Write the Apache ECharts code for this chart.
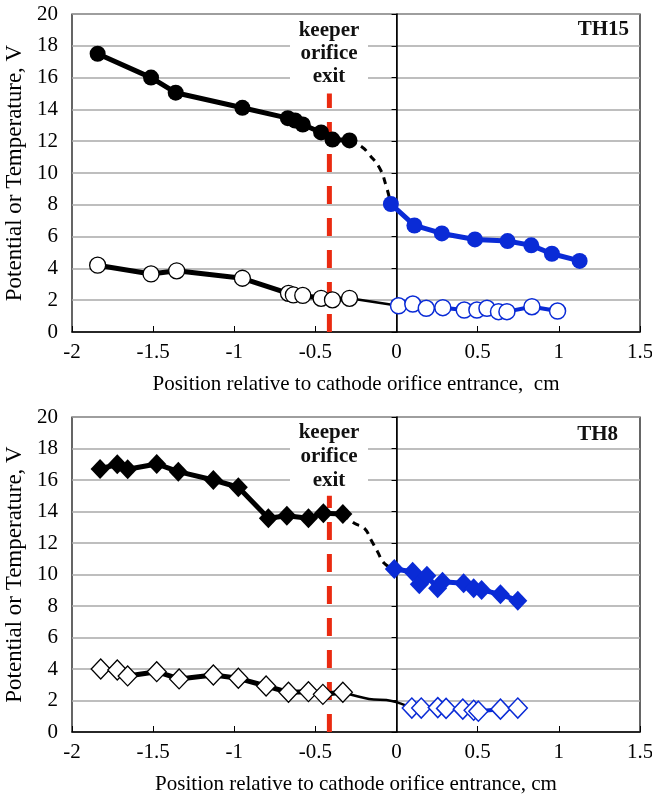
<!DOCTYPE html>
<html><head><meta charset="utf-8">
<script src="https://cdn.jsdelivr.net/npm/echarts@6/dist/echarts.min.js"></script>
<style>html,body{margin:0;padding:0;background:#fff}#c{width:652px;height:797px}</style>
</head><body><div id="c"></div><script>
// ---- tick labels ----
const xTickLabels = ['-2', '-1.5', '-1', '-0.5', '0', '0.5', '1', '1.5'];
const yTickLabels = ['0', '2', '4', '6', '8', '10', '12', '14', '16', '18', '20'];
const xTitleTop = 'Position relative to cathode orifice entrance,  cm';
const xTitleBottom = 'Position relative to cathode orifice entrance, cm';
const yTitle = 'Potential or Temperature, V';
const keeperLabel = ['keeper', 'orifice', 'exit'];
const panelLabels = ['TH15', 'TH8'];
const keeperX = -0.414;
const keeperY = [0, 15];

// ---- TH15 (top) ----
const th15PotInX = [-1.842, -1.513, -1.361, -0.950, -0.670, -0.625, -0.578, -0.465, -0.395, -0.290];
const th15PotInY = [17.5, 16.0, 15.05, 14.1, 13.45, 13.3, 13.05, 12.55, 12.1, 12.05];
const th15TransX = [-0.290, -0.215, -0.166, -0.104, -0.066, -0.035];
const th15TransY = [12.05, 11.65, 11.13, 10.3, 9.25, 8.05];
const th15PotOutX = [-0.035, 0.110, 0.279, 0.483, 0.684, 0.830, 0.957, 1.128];
const th15PotOutY = [8.05, 6.7, 6.2, 5.82, 5.72, 5.45, 4.92, 4.47];
const th15TeInX = [-1.842, -1.513, -1.355, -0.950, -0.666, -0.636, -0.578, -0.465, -0.395, -0.290];
const th15TeInY = [4.2, 3.65, 3.85, 3.38, 2.43, 2.33, 2.3, 2.12, 2.02, 2.12];
const th15TeLinkX = [-0.290, 0.012];
const th15TeLinkY = [2.12, 1.65];
const th15TeOutX = [0.012, 0.100, 0.183, 0.285, 0.417, 0.495, 0.557, 0.628, 0.680, 0.834, 0.992];
const th15TeOutY = [1.65, 1.76, 1.49, 1.53, 1.38, 1.38, 1.49, 1.28, 1.28, 1.59, 1.32];

// ---- TH8 (bottom) ----
const th8PotInX = [-1.827, -1.721, -1.657, -1.478, -1.345, -1.129, -0.975, -0.790, -0.676, -0.543, -0.451, -0.331];
const th8PotInY = [16.7, 17.0, 16.68, 17.02, 16.53, 16.0, 15.54, 13.57, 13.73, 13.57, 13.89, 13.84];
const th8TransX = [-0.331, -0.260, -0.198, -0.157, -0.117, -0.076, -0.014];
const th8TransY = [13.84, 13.25, 12.93, 12.19, 11.45, 10.71, 10.35];
const th8PotOutX = [-0.014, 0.099, 0.140, 0.187, 0.253, 0.283, 0.413, 0.475, 0.524, 0.640, 0.747];
const th8PotOutY = [10.35, 10.18, 9.38, 9.92, 9.12, 9.54, 9.44, 9.12, 9.02, 8.74, 8.34];
const th8TeInX = [-1.823, -1.721, -1.657, -1.478, -1.340, -1.129, -0.975, -0.804, -0.666, -0.543, -0.454, -0.331];
const th8TeInY = [4.0, 3.94, 3.56, 3.83, 3.37, 3.62, 3.41, 2.92, 2.52, 2.56, 2.39, 2.52];
const th8TeLinkX = [-0.331, -0.17, -0.03, 0.094];
const th8TeLinkY = [2.52, 2.1, 1.97, 1.52];
const th8TeOutX = [0.094, 0.152, 0.254, 0.305, 0.408, 0.475, 0.504, 0.640, 0.747];
const th8TeOutY = [1.52, 1.52, 1.55, 1.5, 1.45, 1.38, 1.32, 1.45, 1.52];

const zip = (xs, ys) => xs.map((x, i) => [x, ys[i]]);
const BLUE = '#0a2bd6';
const RED = '#ea2a10';
const SERIF = '"Liberation Serif", "Times New Roman", serif';
const FS = 21;

function xAxisCfg(gi, title) {
  return {
    gridIndex: gi, type: 'value', min: -2, max: 1.5, interval: 0.5,
    name: title, nameLocation: 'middle', nameGap: 42,
    nameTextStyle: { fontFamily: SERIF, fontSize: FS, color: '#000' },
    axisLine: { onZero: false, lineStyle: { color: '#000', width: 1.5 } },
    axisTick: { inside: true, length: 6, lineStyle: { color: '#000' } },
    axisLabel: { margin: 10, fontFamily: SERIF, fontSize: FS, color: '#000',
      formatter: (v) => xTickLabels[Math.round((v + 2) / 0.5)] },
    splitLine: { show: false }
  };
}
function yAxisCfg(gi) {
  return {
    gridIndex: gi, type: 'value', min: 0, max: 20, interval: 2,
    name: yTitle, nameLocation: 'middle', nameGap: 44,
    nameTextStyle: { fontFamily: SERIF, fontSize: 23, color: '#000' },
    axisLine: { show: true, lineStyle: { color: '#000', width: 1.5 } },
    axisTick: { show: true, length: 5, lineStyle: { color: '#000' } },
    axisLabel: { margin: 14, fontFamily: SERIF, fontSize: FS, color: '#000',
      formatter: (v) => yTickLabels[Math.round(v / 2)] },
    splitLine: { show: true, lineStyle: { color: '#a8a8a8', width: 1.5 } }
  };
}

function panelSeries(gi, d) {
  const base = { xAxisIndex: gi, yAxisIndex: gi, type: 'line', animation: false,
    emphasis: { disabled: true }, silent: true };
  return [
    Object.assign({}, base, { name: 'zero', data: [[0, 0], [0, 20]], symbol: 'none',
      lineStyle: { color: '#000', width: 1 }, z: 1 }),
    Object.assign({}, base, { name: 'keeper', data: [[keeperX, keeperY[0]], [keeperX, keeperY[1]]], symbol: 'none',
      lineStyle: { color: RED, width: 5, type: [18, 14] }, z: 2 }),
    Object.assign({}, base, { data: d.trans, symbol: 'none', smooth: true,
      lineStyle: { color: '#000', width: 3, type: [7, 6] }, z: 3 }),
    Object.assign({}, base, { data: d.teLink, symbol: 'none', smooth: d.teLink.length > 2 ? 0.4 : false,
      lineStyle: { color: '#000', width: 2.5 }, z: 3 }),
    Object.assign({}, base, { data: d.potIn, symbol: d.sym, symbolSize: d.symSize,
      itemStyle: { color: '#000' }, lineStyle: { color: '#000', width: 5 }, z: 4 }),
    Object.assign({}, base, { data: d.potOut, symbol: d.sym, symbolSize: d.symSize,
      itemStyle: { color: BLUE }, lineStyle: { color: BLUE, width: 5 }, z: 4 }),
    Object.assign({}, base, { data: d.teIn, symbol: d.sym, symbolSize: d.symSize,
      itemStyle: { color: '#fff', borderColor: '#000', borderWidth: 1.3 }, lineStyle: { color: '#000', width: 5 }, z: 4 }),
    Object.assign({}, base, { data: d.teOut, symbol: d.sym, symbolSize: d.symSize,
      itemStyle: { color: '#fff', borderColor: BLUE, borderWidth: 1.5 }, lineStyle: { color: BLUE, width: 4 }, z: 4 })
  ];
}

const panelTop = {
  potIn: zip(th15PotInX, th15PotInY), trans: zip(th15TransX, th15TransY), potOut: zip(th15PotOutX, th15PotOutY),
  teIn: zip(th15TeInX, th15TeInY), teLink: zip(th15TeLinkX, th15TeLinkY), teOut: zip(th15TeOutX, th15TeOutY),
  sym: 'circle', symSize: 16
};
const panelBot = {
  potIn: zip(th8PotInX, th8PotInY), trans: zip(th8TransX, th8TransY), potOut: zip(th8PotOutX, th8PotOutY),
  teIn: zip(th8TeInX, th8TeInY), teLink: zip(th8TeLinkX, th8TeLinkY), teOut: zip(th8TeOutX, th8TeOutY),
  sym: 'diamond', symSize: [19, 20]
};

const chart = echarts.init(document.getElementById('c'), null, { renderer: 'canvas' });
const labelFont = 'bold 21px ' + SERIF;
chart.setOption({
  animation: false,
  backgroundColor: '#fff',
  grid: [
    { left: 72, right: 12, top: 14, height: 318, show: true, borderColor: '#000', borderWidth: 1.2,
      backgroundColor: 'transparent', outerBoundsMode: 'none', containLabel: false },
    { left: 72, right: 12, top: 417, height: 315, show: true, borderColor: '#000', borderWidth: 1.2,
      backgroundColor: 'transparent', outerBoundsMode: 'none', containLabel: false }
  ],
  xAxis: [xAxisCfg(0, xTitleTop), xAxisCfg(1, xTitleBottom)],
  yAxis: [yAxisCfg(0), yAxisCfg(1)],
  series: panelSeries(0, panelTop).concat(panelSeries(1, panelBot)),
  graphic: [
    { type: 'rect', shape: { x: 290, y: 16, width: 78, height: 74 }, style: { fill: '#fff' }, z: 5 },
    { type: 'text', x: 329, y: 19, z: 6, style: { text: keeperLabel.join('\n'), font: labelFont, fill: '#111',
      align: 'center', verticalAlign: 'top', lineHeight: 23 } },
    { type: 'text', x: 629, y: 30, z: 6, style: { text: panelLabels[0], font: labelFont, fill: '#111',
      align: 'right', verticalAlign: 'middle' } },
    { type: 'rect', shape: { x: 290, y: 419, width: 78, height: 74 }, style: { fill: '#fff' }, z: 5 },
    { type: 'text', x: 329, y: 421, z: 6, style: { text: keeperLabel.join('\n'), font: labelFont, fill: '#111',
      align: 'center', verticalAlign: 'top', lineHeight: 24 } },
    { type: 'text', x: 618, y: 435, z: 6, style: { text: panelLabels[1], font: labelFont, fill: '#111',
      align: 'right', verticalAlign: 'middle' } }
  ]
});
</script></body></html>
